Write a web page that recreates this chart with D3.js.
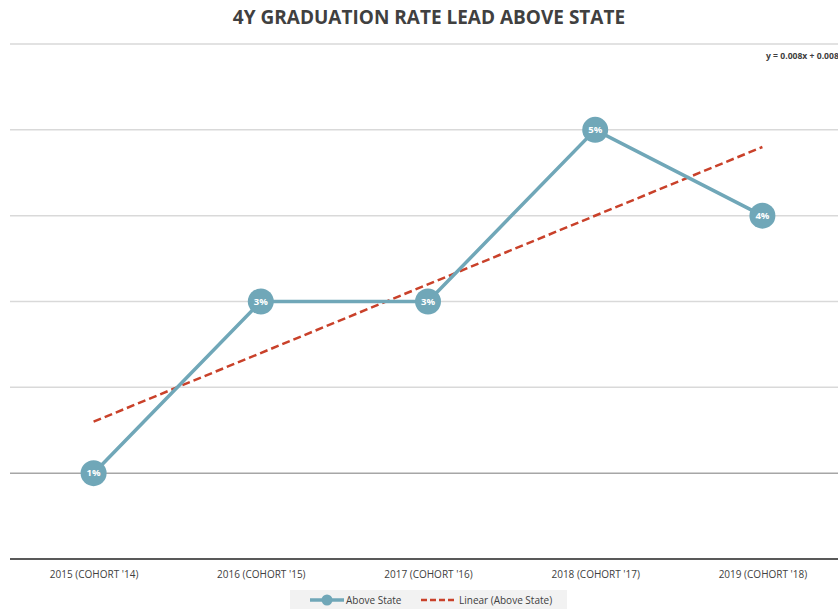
<!DOCTYPE html>
<html>
<head>
<meta charset="utf-8">
<script src="https://cdn.jsdelivr.net/npm/d3@7"></script>
<style>
  body { margin: 0; background: #fff; }
  svg { display: block; font-family: "Open Sans", "Liberation Sans", sans-serif; }
</style>
</head>
<body>
<div id="chart"></div>
<script>
const categories = ["2015 (COHORT '14)", "2016 (COHORT '15)", "2017 (COHORT '16)", "2018 (COHORT '17)", "2019 (COHORT '18)"];
const aboveState = [0.01, 0.03, 0.03, 0.05, 0.04];
const yTicks = [0.01, 0.02, 0.03, 0.04, 0.05, 0.06];
const trendLabel = "y = 0.008x + 0.008";

const width = 838, height = 609;
const margin = { top: 44, right: -8, bottom: 50, left: 10 };

const svg = d3.select("#chart").append("svg")
  .attr("width", width)
  .attr("height", height);

const x = d3.scalePoint()
  .domain(categories)
  .range([margin.left, width - margin.right])
  .padding(0.5);

const y = d3.scaleLinear()
  .domain([0, 0.06])
  .range([height - margin.bottom, margin.top]);

// title
svg.append("text")
  .attr("x", 429).attr("y", 24)
  .attr("text-anchor", "middle")
  .style("font-size", "19px")
  .style("font-weight", "bold")
  .attr("fill", "#404040")
  .text("4Y GRADUATION RATE LEAD ABOVE STATE");

// gridlines
svg.append("g")
  .selectAll("line")
  .data(yTicks)
  .enter().append("line")
  .attr("x1", margin.left).attr("x2", width)
  .attr("y1", d => y(d)).attr("y2", d => y(d))
  .attr("stroke", d => d === 0.01 ? "#a6a6a6" : "#d9d9d9")
  .attr("stroke-width", 1.5);

// x axis
const xAxis = svg.append("g")
  .attr("transform", `translate(0,${y(0)})`)
  .call(d3.axisBottom(x).tickSize(0).tickPadding(12));
xAxis.select(".domain").remove();
xAxis.append("line")
  .attr("x1", margin.left).attr("x2", width)
  .attr("stroke", "#595959").attr("stroke-width", 2);
xAxis.selectAll("text")
  .style("font-size", "10px")
  .style("font-family", "'Open Sans', sans-serif")
  .attr("fill", "#404040");

// trendline (least squares)
const xs = categories.map((d, i) => i + 1);
const mx = d3.mean(xs), my = d3.mean(aboveState);
const slope = d3.sum(xs, (v, i) => (v - mx) * (aboveState[i] - my)) / d3.sum(xs, v => (v - mx) ** 2);
const intercept = my - slope * mx;

svg.append("line")
  .attr("x1", x(categories[0])).attr("y1", y(slope * 1 + intercept))
  .attr("x2", x(categories[categories.length - 1])).attr("y2", y(slope * categories.length + intercept))
  .attr("stroke", "#c9412a")
  .attr("stroke-width", 2.5)
  .attr("stroke-dasharray", "8,4");

svg.append("text")
  .attr("x", 766).attr("y", 59)
  .style("font-size", "8.6px")
  .style("font-weight", "bold")
  .attr("fill", "#404040")
  .text(trendLabel);

// series line
const line = d3.line()
  .x((d, i) => x(categories[i]))
  .y(d => y(d));

svg.append("path")
  .datum(aboveState)
  .attr("d", line)
  .attr("fill", "none")
  .attr("stroke", "#70a7b8")
  .attr("stroke-width", 3.5);

const pts = svg.append("g")
  .selectAll("g")
  .data(aboveState)
  .enter().append("g")
  .attr("transform", (d, i) => `translate(${x(categories[i])},${y(d)})`);

pts.append("circle")
  .attr("r", 13)
  .attr("fill", "#70a7b8");

pts.append("text")
  .attr("text-anchor", "middle")
  .attr("dy", "0.35em")
  .style("font-size", "9.5px")
  .style("font-weight", "bold")
  .attr("fill", "#fff")
  .text(d => d3.format(".0%")(d));

// legend
const lg = svg.append("g");
lg.append("rect")
  .attr("x", 290).attr("y", 590).attr("width", 277).attr("height", 19)
  .attr("fill", "#f2f2f2");
lg.append("line")
  .attr("x1", 310).attr("x2", 344).attr("y1", 600).attr("y2", 600)
  .attr("stroke", "#70a7b8").attr("stroke-width", 3.5);
lg.append("circle")
  .attr("cx", 327).attr("cy", 600).attr("r", 5.5)
  .attr("fill", "#70a7b8");
lg.append("text")
  .attr("x", 346).attr("y", 604)
  .style("font-size", "10px")
  .attr("fill", "#404040")
  .text("Above State");
lg.append("line")
  .attr("x1", 421).attr("x2", 456).attr("y1", 600).attr("y2", 600)
  .attr("stroke", "#c9412a").attr("stroke-width", 2.5)
  .attr("stroke-dasharray", "6,3");
lg.append("text")
  .attr("x", 459).attr("y", 604)
  .style("font-size", "10px")
  .attr("fill", "#404040")
  .text("Linear (Above State)");
</script>
</body>
</html>
